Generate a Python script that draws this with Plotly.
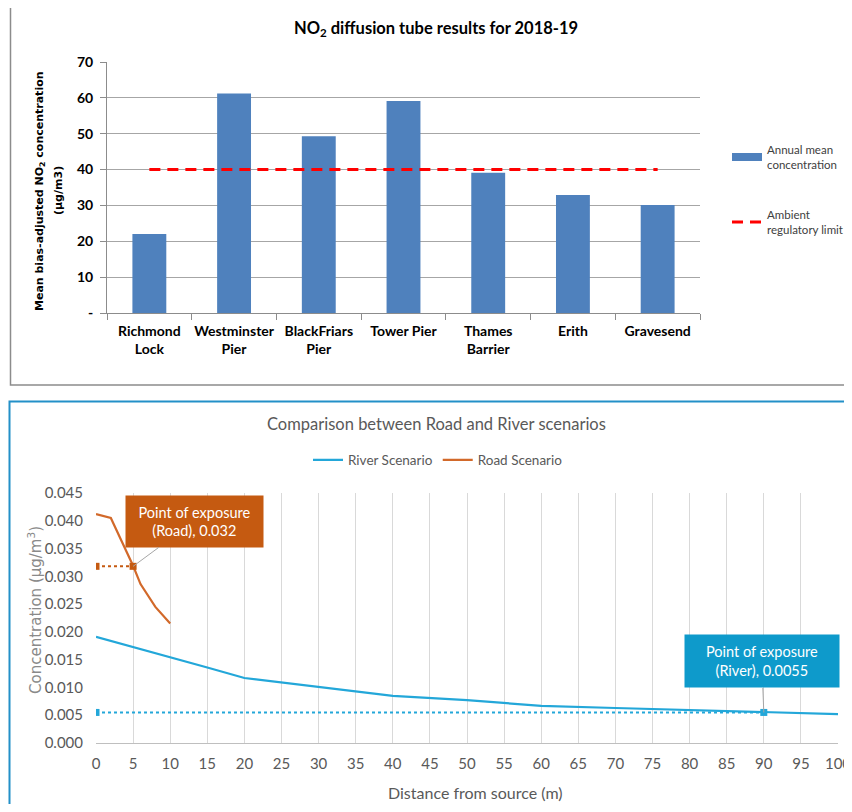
import plotly.graph_objects as go

# ---------------- Top chart data ----------------
sites = ["Richmond<br>Lock", "Westminster<br>Pier", "BlackFriars<br>Pier", "Tower Pier",
         "Thames<br>Barrier", "Erith", "Gravesend"]
annual_mean = [22.0, 61.2, 49.3, 59.1, 39.1, 32.9, 30.1]
regulatory_limit = [40, 40, 40, 40, 40, 40, 40]
top_yticks = [0, 10, 20, 30, 40, 50, 60, 70]
top_yticktext = ["-", "10", "20", "30", "40", "50", "60", "70"]

# ---------------- Bottom chart data ----------------
river_x = [0, 5, 10, 15, 20, 30, 40, 50, 60, 70, 80, 90, 100]
river_y = [0.0191, 0.0173, 0.0155, 0.0136, 0.0117, 0.0101, 0.0085, 0.0077, 0.0067,
           0.0063, 0.0059, 0.0055, 0.0052]
road_x = [0, 2, 5, 6, 8, 10]
road_y = [0.0412, 0.0405, 0.0319, 0.0286, 0.0245, 0.0215]
road_exposure_x = [0, 5]
road_exposure_y = [0.0318, 0.0318]
river_exposure_x = [0, 90]
river_exposure_y = [0.0055, 0.0055]
bottom_xticks = [0, 5, 10, 15, 20, 25, 30, 35, 40, 45, 50, 55, 60, 65, 70, 75, 80, 85, 90, 95, 100]
bottom_yticks = [0.000, 0.005, 0.010, 0.015, 0.020, 0.025, 0.030, 0.035, 0.040, 0.045]

# page body has an 8px margin, so the figure is drawn from (8, 8)
OFF = 8
W, H = 852 - OFF, 812 - 2 * OFF
def px(x):
    return (x - OFF) / W
def py(y):
    return 1 - (y - OFF) / H

TOPFONT = "Lato, Liberation Sans, sans-serif"
BOTFONT = "Lato, Liberation Sans, sans-serif"
BAR_BLUE = "#4F81BD"
RIVER = "#23A7D9"
ROAD = "#D2692A"
GRAY_TXT = "#595959"

fig = go.Figure()

# Top bars
fig.add_trace(go.Bar(x=sites, y=annual_mean, marker=dict(color=BAR_BLUE, line=dict(width=0)),
                     width=0.4, name="Annual mean<br>concentration", showlegend=False,
                     xaxis="x", yaxis="y"))
# legend proxy for bars (flat rectangle look)
fig.add_trace(go.Scatter(x=[None], y=[None], mode="lines", line=dict(color=BAR_BLUE, width=8),
                         name="Annual mean<br>concentration", legend="legend", xaxis="x", yaxis="y"))
fig.add_trace(go.Scatter(x=sites, y=regulatory_limit, mode="lines",
                         line=dict(color="#FF0000", width=3, dash="11px,7px"),
                         name="Ambient<br>regulatory limit", legend="legend2", xaxis="x", yaxis="y"))

# Bottom lines
fig.add_trace(go.Scatter(x=river_x, y=river_y, mode="lines", line=dict(color=RIVER, width=2.2),
                         name="River Scenario", legend="legend3", xaxis="x2", yaxis="y2"))
fig.add_trace(go.Scatter(x=road_x, y=road_y, mode="lines", line=dict(color=ROAD, width=2.2),
                         name="Road Scenario", legend="legend3", xaxis="x2", yaxis="y2"))
fig.add_trace(go.Scatter(x=river_exposure_x, y=river_exposure_y, mode="lines+markers",
                         line=dict(color=RIVER, width=2, dash="dot"),
                         marker=dict(symbol="square", size=7, color=RIVER),
                         showlegend=False, xaxis="x2", yaxis="y2"))
fig.add_trace(go.Scatter(x=road_exposure_x, y=road_exposure_y, mode="lines+markers",
                         line=dict(color="#C55A11", width=2, dash="dot"),
                         marker=dict(symbol="square", size=7, color="#C55A11"),
                         showlegend=False, xaxis="x2", yaxis="y2"))

C = dict(xanchor="center", yanchor="middle")
annotations = [
    dict(text="<b>NO<sub>2</sub> diffusion tube results for 2018-19</b>", x=px(436), y=py(29),
         xref="paper", yref="paper", showarrow=False, **C,
         font=dict(family=TOPFONT, size=16.5, color="#000000")),
    dict(text="<b>Mean bias-adjusted NO<sub>2</sub> concentration</b>", x=px(40), y=py(191),
         xref="paper", yref="paper", showarrow=False, textangle=-90, **C,
         font=dict(family="DejaVu Sans, sans-serif", size=11, color="#000000")),
    dict(text="<b>(µg/m3)</b>", x=px(58), y=py(191),
         xref="paper", yref="paper", showarrow=False, textangle=-90, **C,
         font=dict(family="DejaVu Sans, sans-serif", size=11, color="#000000")),
    dict(text="Comparison between Road and River scenarios", x=px(436), y=py(424),
         xref="paper", yref="paper", showarrow=False, **C,
         font=dict(family=BOTFONT, size=16.5, color=GRAY_TXT)),
    dict(text="Distance from source (m)", x=px(476), y=py(792),
         xref="paper", yref="paper", showarrow=False, **C,
         font=dict(family=BOTFONT, size=16, color=GRAY_TXT)),
    dict(text="Concentration (µg/m<sup>3</sup>)", x=px(35), y=py(610),
         xref="paper", yref="paper", showarrow=False, textangle=-90, **C,
         font=dict(family="DejaVu Sans, sans-serif", size=15, color="#8A8A8A")),
    dict(text="Point of exposure<br>(Road), 0.032", x=road_exposure_x[1], y=road_exposure_y[1],
         xref="x2", yref="y2", showarrow=True, arrowhead=0, arrowwidth=1, arrowcolor="#A6A6A6",
         ax=61, ay=-45, bgcolor="#C55A11", width=135, height=49,
         font=dict(family=BOTFONT, size=14.5, color="#FFFFFF")),
    dict(text="Point of exposure<br>(River), 0.0055", x=river_exposure_x[1], y=river_exposure_y[1],
         xref="x2", yref="y2", showarrow=True, arrowhead=0, arrowwidth=1, arrowcolor="#A6A6A6",
         ax=-2, ay=-51, bgcolor="#0E9ACB", width=152, height=50,
         font=dict(family=BOTFONT, size=14.5, color="#FFFFFF")),
]

shapes = [
    dict(type="rect", xref="paper", yref="paper", x0=px(10.5), x1=px(900), y0=py(385), y1=py(7),
         line=dict(color="#8C8C8C", width=1.5)),
    dict(type="rect", xref="paper", yref="paper", x0=px(9.5), x1=px(900), y0=py(900), y1=py(401.5),
         line=dict(color="#2390C8", width=2)),
]

fig.update_layout(
    width=W, height=H, margin=dict(l=0, r=0, t=0, b=0, autoexpand=False),
    paper_bgcolor="white", plot_bgcolor="white",
    showlegend=True,
    xaxis=dict(domain=[px(107), px(700)], anchor="y", type="category", automargin=False,
               showline=True, linecolor="#8C8C8C", linewidth=1, tickangle=0,
               ticks="outside", tickson="boundaries", ticklen=6, tickcolor="#8C8C8C",
               tickfont=dict(family=TOPFONT, size=14, color="#000000", weight="bold"),
               ticklabelstandoff=5, showgrid=False),
    yaxis=dict(domain=[py(313), py(62)], anchor="x", range=[0, 70], automargin=False,
               tickvals=top_yticks, ticktext=top_yticktext,
               showline=True, linecolor="#8C8C8C", linewidth=1,
               ticks="outside", ticklen=6, tickcolor="#8C8C8C",
               showgrid=True, gridcolor="#A6A6A6", gridwidth=1, zeroline=False,
               tickfont=dict(family=TOPFONT, size=14, color="#000000", weight="bold"),
               ticklabelstandoff=4),
    xaxis2=dict(domain=[px(96), px(838)], anchor="y2", range=[0, 100], automargin=False,
                tickvals=bottom_xticks, showgrid=True, gridcolor="#D9D9D9", gridwidth=1,
                showline=True, linecolor="#BFBFBF", linewidth=1, zeroline=False, ticks="",
                tickfont=dict(family=BOTFONT, size=15, color=GRAY_TXT), ticklabelstandoff=7),
    yaxis2=dict(domain=[py(743), py(493)], anchor="x2", range=[0, 0.045], automargin=False,
                tickvals=bottom_yticks, tickformat=".3f", showgrid=False, zeroline=False,
                showline=False, ticks="",
                tickfont=dict(family=BOTFONT, size=15, color=GRAY_TXT), ticklabelstandoff=12),
    legend=dict(x=px(727), y=py(157), xanchor="left", yanchor="middle", bgcolor="rgba(0,0,0,0)",
                font=dict(family=TOPFONT, size=11.5, color="#404040"), itemwidth=30),
    legend2=dict(x=px(727), y=py(222), xanchor="left", yanchor="middle", bgcolor="rgba(0,0,0,0)",
                 font=dict(family=TOPFONT, size=11.5, color="#404040"), itemwidth=30),
    legend3=dict(x=px(438), y=py(460), xanchor="center", yanchor="middle", orientation="h",
                 bgcolor="rgba(0,0,0,0)", font=dict(family=BOTFONT, size=13.5, color=GRAY_TXT),
                 itemwidth=30),
    annotations=annotations,
    shapes=shapes,
)

fig.write_html("out.html")
